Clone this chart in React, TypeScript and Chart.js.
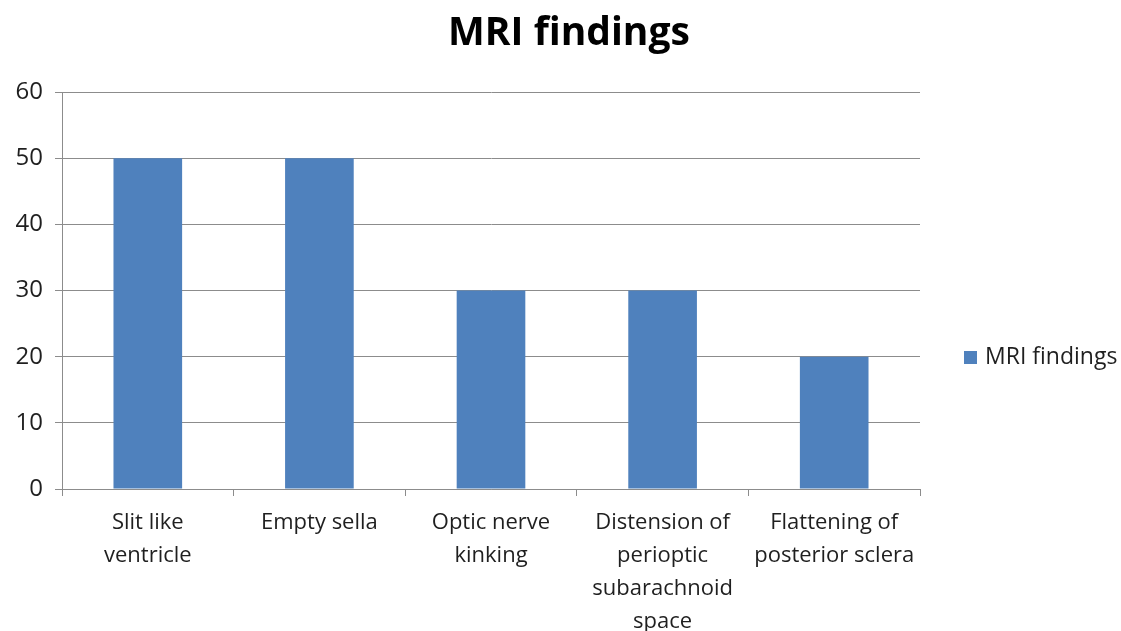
import React, { useEffect, useRef } from "react";
import { Chart, registerables } from "chart.js";

Chart.register(...registerables);

const categories: string[][] = [
  ["Slit like", "ventricle"],
  ["Empty sella"],
  ["Optic nerve", "kinking"],
  ["Distension of", "perioptic", "subarachnoid", "space"],
  ["Flattening of", "posterior sclera"],
];
const seriesName = "MRI findings";
const chartTitle = "MRI findings";
const values: number[] = [50, 50, 30, 30, 20];
const yTicks: number[] = [0, 10, 20, 30, 40, 50, 60];

const FONT = "'Open Sans', sans-serif";
const TEXT = "#1f1f1f";
const GRID = "#8c8c8c";
const BAR = "#4f81bd";

// Title and right-hand legend drawn in canvas space.
const headerLegend = {
  id: "headerLegend",
  afterDraw(chart: any) {
    const { ctx } = chart;
    ctx.save();
    ctx.fillStyle = "#000";
    ctx.font = `bold 39px ${FONT}`;
    ctx.textAlign = "center";
    ctx.textBaseline = "alphabetic";
    ctx.fillText(chartTitle, 569, 45);

    const ds = chart.data.datasets[0];
    ctx.fillStyle = ds.backgroundColor;
    ctx.fillRect(964, 351, 13, 13);
    ctx.fillStyle = TEXT;
    ctx.font = `23px ${FONT}`;
    ctx.textAlign = "left";
    ctx.textBaseline = "middle";
    ctx.fillText(ds.label, 985, 357);
    ctx.restore();
  },
};

export default function App() {
  const ref = useRef<HTMLCanvasElement | null>(null);

  useEffect(() => {
    document.body.style.margin = "0";
    const canvas = ref.current;
    if (!canvas) return;
    const chart = new Chart(canvas, {
      type: "bar",
      data: {
        labels: categories,
        datasets: [
          {
            label: seriesName,
            data: values,
            backgroundColor: BAR,
            borderWidth: 0,
            categoryPercentage: 1,
            barPercentage: 0.4,
          },
        ],
      },
      plugins: [headerLegend],
      options: {
        responsive: false,
        animation: false,
        layout: { padding: { left: 0, right: 201, top: 92, bottom: 0 } },
        plugins: {
          title: { display: false },
          legend: { display: false },
          tooltip: { enabled: false },
        },
        scales: {
          x: {
            afterFit: (axis: any) => {
              axis.height = 142;
            },
            grid: {
              display: true,
              drawOnChartArea: false,
              drawTicks: true,
              tickLength: 7,
              color: GRID,
              offset: true,
            },
            border: { display: true, color: GRID, width: 1 },
            ticks: {
              color: TEXT,
              font: { family: FONT, size: 22, lineHeight: 1.5 },
              maxRotation: 0,
              autoSkip: false,
              padding: 10,
            },
          },
          y: {
            min: 0,
            max: 60,
            afterFit: (axis: any) => {
              axis.width = 62;
            },
            afterBuildTicks: (axis: any) => {
              axis.ticks = yTicks.map((v) => ({ value: v }));
            },
            grid: {
              color: GRID,
              tickLength: 7,
              drawTicks: true,
            },
            border: { display: true, color: GRID, width: 1 },
            ticks: {
              color: TEXT,
              font: { family: FONT, size: 24 },
              padding: 12,
            },
          },
        },
      },
    });
    return () => chart.destroy();
  }, []);

  return <canvas ref={ref} width={1121} height={631} style={{ display: "block" }} />;
}
